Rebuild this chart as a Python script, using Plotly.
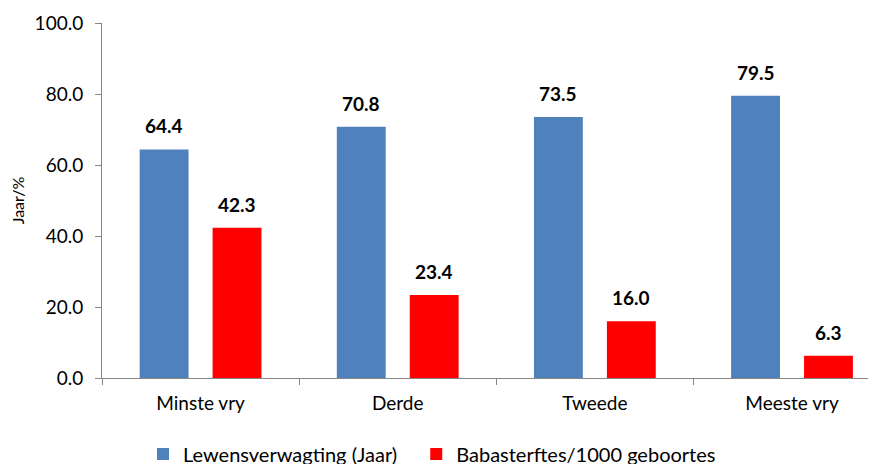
import plotly.graph_objects as go

categories = ["Minste vry", "Derde", "Tweede", "Meeste vry"]
life_exp = [64.4, 70.8, 73.5, 79.5]
infant_mort = [42.3, 23.4, 16.0, 6.3]
series_names = ["Lewensverwagting (Jaar)", "Babasterftes/1000 geboortes"]
y_ticks = [0, 20, 40, 60, 80, 100]

FONT = "Lato"
BLUE = "#4F81BD"
RED = "#FF0000"

fig = go.Figure()
fig.add_trace(go.Bar(x=categories, y=life_exp, name=series_names[0], marker_color=BLUE,
                     marker_line_width=0, legend="legend"))
fig.add_trace(go.Bar(x=categories, y=infant_mort, name=series_names[1], marker_color=RED,
                     marker_line_width=0, legend="legend2"))

for i, c in enumerate(categories):
    for j, (vals, off) in enumerate([(life_exp, -0.185), (infant_mort, 0.185)]):
        fig.add_annotation(x=i + off, y=vals[i], text="<b>%.1f</b>" % vals[i], showarrow=False,
                           yanchor="bottom", yshift=10, font=dict(family=FONT, size=19, color="black"))

leg_common = dict(orientation="h", y=-0.214, xanchor="left", yanchor="middle",
                  font=dict(family=FONT, size=20), itemwidth=30, bgcolor="rgba(0,0,0,0)")

fig.update_layout(
    width=876, height=464,
    margin=dict(l=94, r=8, t=15, b=94, autoexpand=False),
    paper_bgcolor="white", plot_bgcolor="white",
    barmode="group", bargap=0.26, bargroupgap=0.33,
    font=dict(family=FONT, size=17, color="black"),
    showlegend=True,
    legend=dict(x=0.053, **leg_common),
    legend2=dict(x=0.406, **leg_common),
)
fig.update_xaxes(range=[-0.5, 3.426], showline=True, linecolor="#868686", linewidth=1, automargin=False,
                 ticks="outside", tickson="boundaries", ticklen=6, tickcolor="#868686",
                 ticklabelstandoff=8,
                 showgrid=False, tickfont=dict(family=FONT, size=19))
fig.update_yaxes(range=[0, 100], tickvals=y_ticks, tickformat=".1f", showline=True, automargin=False,
                 linecolor="#868686", linewidth=1, ticks="outside", ticklen=6, tickcolor="#868686",
                 ticklabelstandoff=8,
                 showgrid=False, zeroline=False, tickfont=dict(family=FONT, size=19),
                 title=dict(text="Jaar/%", font=dict(family=FONT, size=16), standoff=8))

fig.write_html("out.html")
